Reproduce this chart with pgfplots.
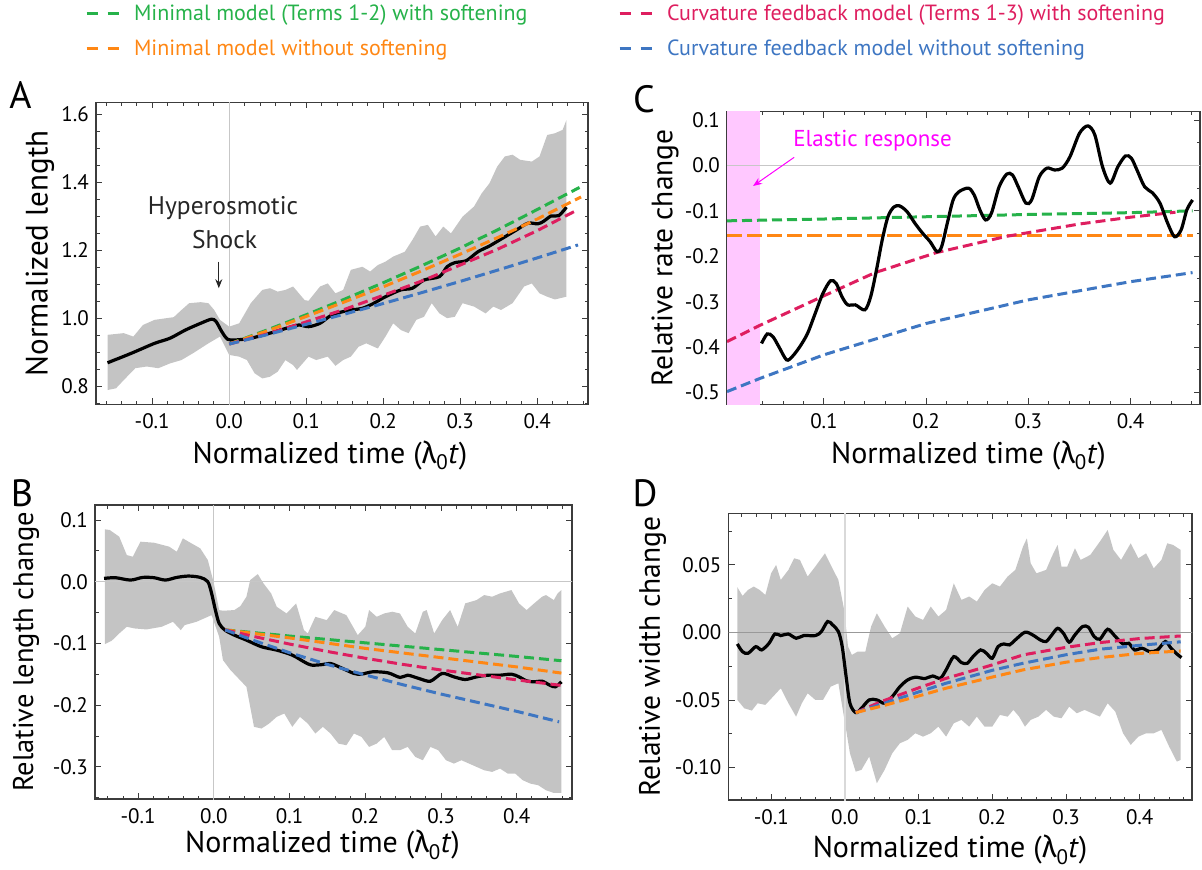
\documentclass[border=0pt]{standalone}
\usepackage{fontspec}
\setmainfont{PT Sans}
\newfontfamily\grk{Fira Sans}
\usepackage{pgfplots}
\pgfplotsset{compat=1.18}
\usepgfplotslibrary{fillbetween}
\usetikzlibrary{arrows.meta}
\definecolor{cgreen}{RGB}{38,178,74}
\definecolor{corange}{RGB}{255,135,20}
\definecolor{cred}{RGB}{222,30,95}
\definecolor{cblue}{RGB}{62,118,194}
\definecolor{cband}{RGB}{196,196,196}
\definecolor{cpink}{RGB}{255,200,255}
\definecolor{cmag}{RGB}{255,0,255}
\definecolor{caxis}{RGB}{60,60,60}
\newcommand{\xlab}{Normalized time ({\grk λ}\textsubscript{0}\textit{t})}
\pgfplotsset{
  panel/.style={scale only axis, anchor=south west,
    axis line style={caxis, line width=1.2pt},
    tick style={caxis, line width=1pt},
    major tick length=6pt, minor tick length=3.5pt, tick align=inside,
    tick label style={font=\fontsize{21}{24}\selectfont},
    xticklabel style={anchor=north, inner sep=0pt, yshift=-9pt},
    yticklabel style={anchor=east, inner sep=0pt, xshift=-7pt},
    xlabel style={anchor=center, font=\fontsize{30}{32}\selectfont},
    ylabel style={anchor=center, font=\fontsize{28.5}{31}\selectfont},
  },
  model/.style={line width=3pt, dash pattern=on 10pt off 5pt, forget plot},
  obs/.style={black, line width=3.2pt, smooth, tension=0.5, forget plot},
}
\begin{document}
\begin{tikzpicture}
% ================= A =================
\begin{axis}[panel, at={(96pt,-404.3pt)}, width=492pt, height=302pt,
  xmin=-0.173, xmax=0.466, ymin=0.748, ymax=1.635,
  xtick={-0.1,0,0.1,0.2,0.3,0.4}, xticklabels={-0.1,0.0,0.1,0.2,0.3,0.4},
  minor xtick={-0.16,-0.14,...,0.46},
  ytick={0.8,1.0,1.2,1.4,1.6}, yticklabels={0.8,1.0,1.2,1.4,1.6},
  minor ytick={0.75,0.8,...,1.65},
  xlabel={\xlab}, ylabel={Normalized length},
  xlabel style={at={(axis description cs:0.4756,-0.169)}},
  ylabel style={at={(axis description cs:-0.1138,0.5)}, font=\fontsize{31}{33}\selectfont},
  legend columns=2, legend cell align=left,
  legend style={at={(rel axis cs:-0.02236,1.3255)}, anchor=north west, draw=none, fill=none,
    inner sep=0pt, outer sep=0pt, column sep=14pt, row sep=14pt,
    nodes={inner sep=0pt, anchor=base west, text height=16pt, text depth=5pt, font=\fontsize{22}{26}\selectfont}},
  legend image code/.code={\draw[#1, line width=3pt, dash pattern=on 11pt off 10pt] (0pt,7pt) -- (32pt,7pt);},
]
\addlegendimage{cgreen}
\addlegendentry{\makebox[470pt][l]{\textcolor{cgreen}{Minimal model (Terms 1-2) with softening}}}
\addlegendimage{cred}
\addlegendentry{\textcolor{cred}{Curvature feedback model (Terms 1-3) with softening}}
\addlegendimage{corange}
\addlegendentry{\makebox[470pt][l]{\textcolor{corange}{Minimal model without softening}}}
\addlegendimage{cblue}
\addlegendentry{\textcolor{cblue}{Curvature feedback model without softening}}
\addplot[name path=upA, draw=none, forget plot] coordinates {
(-0.158,0.952)(-0.137,0.957)(-0.1245,0.947)(-0.112,0.981)(-0.097,0.996)(-0.072,1.004)(-0.062,1.025)(-0.052,1.045)(-0.037,1.048)(-0.027,1.045)(-0.0195,1.025)(-0.012,0.996)(0.0,0.976)(0.013,0.986)(0.028,1.045)(0.043,1.084)(0.053,1.089)(0.063,1.079)(0.073,1.084)(0.083,1.094)(0.098,1.054)(0.103,1.052)(0.118,1.094)(0.128,1.103)(0.138,1.074)(0.148,1.084)(0.158,1.143)(0.173,1.152)(0.183,1.138)(0.193,1.157)(0.203,1.167)(0.213,1.182)(0.228,1.196)(0.238,1.231)(0.248,1.270)(0.258,1.275)(0.268,1.241)(0.278,1.270)(0.288,1.250)(0.303,1.299)(0.318,1.329)(0.328,1.368)(0.338,1.397)(0.348,1.446)(0.358,1.476)(0.368,1.481)(0.378,1.466)(0.393,1.461)(0.403,1.476)(0.413,1.539)(0.423,1.544)(0.433,1.554)(0.438,1.583)};
\addplot[name path=loA, draw=none, forget plot] coordinates {
(-0.158,0.790)(-0.147,0.795)(-0.137,0.819)(-0.122,0.854)(-0.107,0.859)(-0.092,0.854)(-0.077,0.868)(-0.062,0.878)(-0.047,0.898)(-0.027,0.927)(-0.012,0.947)(0.0,0.893)(0.013,0.888)(0.023,0.878)(0.033,0.839)(0.043,0.824)(0.053,0.829)(0.063,0.844)(0.073,0.878)(0.083,0.863)(0.088,0.849)(0.103,0.888)(0.113,0.878)(0.128,0.888)(0.138,0.861)(0.148,0.878)(0.158,0.888)(0.168,0.917)(0.178,0.927)(0.193,0.912)(0.203,0.947)(0.213,0.986)(0.223,0.966)(0.233,0.957)(0.243,0.996)(0.253,1.005)(0.263,1.045)(0.273,1.015)(0.283,1.001)(0.293,1.005)(0.303,1.045)(0.318,1.035)(0.333,1.015)(0.343,1.035)(0.353,1.025)(0.368,1.045)(0.383,1.094)(0.393,1.103)(0.403,1.074)(0.413,1.064)(0.423,1.056)(0.438,1.064)};
\addplot[cband, forget plot] fill between[of=upA and loA];
\addplot[black!22, line width=1pt, forget plot] coordinates {(0,0.6)(0,1.8)};
\addplot[obs] coordinates {
(-0.158,0.870)(-0.127,0.898)(-0.097,0.927)(-0.077,0.942)(-0.057,0.966)(-0.037,0.986)(-0.023,0.998)(-0.017,0.991)(-0.0095,0.961)(-0.002,0.939)(0.008,0.937)(0.028,0.942)(0.053,0.957)(0.078,0.974)(0.0905,0.981)(0.103,0.976)(0.118,0.986)(0.133,1.010)(0.153,1.023)(0.173,1.030)(0.188,1.045)(0.203,1.064)(0.223,1.084)(0.238,1.089)(0.253,1.113)(0.273,1.123)(0.283,1.152)(0.293,1.164)(0.308,1.170)(0.323,1.196)(0.338,1.213)(0.353,1.233)(0.373,1.260)(0.388,1.280)(0.4005,1.278)(0.408,1.285)(0.418,1.301)(0.428,1.302)(0.438,1.327)};
\addplot[model, cgreen] coordinates {(0,0.925)(0.05,0.967)(0.1,1.011)(0.15,1.057)(0.2,1.105)(0.25,1.155)(0.3,1.207)(0.35,1.262)(0.4,1.320)(0.455,1.385)};
\addplot[model, corange] coordinates {(0,0.925)(0.05,0.964)(0.1,1.006)(0.15,1.049)(0.2,1.093)(0.25,1.140)(0.3,1.189)(0.35,1.239)(0.4,1.292)(0.457,1.357)};
\addplot[model, cred] coordinates {(0,0.925)(0.05,0.955)(0.1,0.99)(0.15,1.027)(0.2,1.068)(0.25,1.11)(0.3,1.157)(0.35,1.205)(0.4,1.258)(0.448,1.314)};
\addplot[model, cblue] coordinates {(0,0.925)(0.05,0.953)(0.1,0.983)(0.15,1.013)(0.2,1.044)(0.25,1.076)(0.3,1.109)(0.35,1.143)(0.4,1.178)(0.453,1.216)};
\node[text=black!85, font=\fontsize{25.5}{28}\selectfont] at (axis cs:-0.008,1.324) {Hyperosmotic};
\node[text=black!85, font=\fontsize{25.5}{28}\selectfont] at (axis cs:-0.006,1.233) {Shock};
\draw[black!85, line width=1.2pt, -{Stealth[length=9pt,width=7pt]}] (axis cs:-0.0135,1.167) -- (axis cs:-0.0135,1.089);
\end{axis}
% ================= C =================
\begin{axis}[panel, at={(727pt,-404.3pt)}, width=473pt, height=292.6pt,
  xmin=0.0051, xmax=0.468, ymin=-0.526, ymax=0.1183,
  xtick={0.1,0.2,0.3,0.4}, xticklabels={0.1,0.2,0.3,0.4},
  minor xtick={0.02,0.04,...,0.46},
  ytick={-0.5,-0.4,-0.3,-0.2,-0.1,0,0.1}, yticklabels={-0.5,-0.4,-0.3,-0.2,-0.1,0.0,0.1},
  minor ytick={-0.55,-0.5,...,0.15},
  xlabel={\xlab}, ylabel={Relative rate change},
  xlabel style={at={(axis description cs:0.5106,-0.174)}},
  ylabel style={at={(axis description cs:-0.131,0.5)}, font=\fontsize{29.5}{32}\selectfont},
]
\addplot[fill=cpink, draw=none, forget plot] coordinates {(-0.01,-0.6)(0.0374,-0.6)(0.0374,0.2)(-0.01,0.2)} -- cycle;
\addplot[black!22, line width=1pt, forget plot] coordinates {(-0.1,0)(0.6,0)};
\addplot[model, cgreen] coordinates {(0.0051,-0.122)(0.1,-0.118)(0.2,-0.113)(0.3,-0.108)(0.4,-0.104)(0.4607,-0.100)};
\addplot[model, corange, dash pattern=on 15pt off 5pt] coordinates {(0.0051,-0.155)(0.4607,-0.155)};
\addplot[model, cred] coordinates {(0.0051,-0.388)(0.0374,-0.352)(0.1,-0.287)(0.15,-0.236)(0.21,-0.192)(0.279,-0.156)(0.35,-0.129)(0.4,-0.114)(0.444,-0.103)};
\addplot[model, cblue] coordinates {(0.0051,-0.498)(0.0374,-0.469)(0.1,-0.417)(0.2,-0.348)(0.3,-0.296)(0.4,-0.256)(0.4607,-0.236)};
\addplot[obs] coordinates {
(0.0389,-0.392)(0.0445,-0.371)(0.050,-0.377)(0.0558,-0.399)(0.0633,-0.428)(0.0689,-0.421)(0.0764,-0.399)(0.0839,-0.370)(0.0914,-0.326)(0.0989,-0.282)(0.1064,-0.254)(0.112,-0.260)(0.1176,-0.289)(0.1232,-0.307)(0.1307,-0.307)(0.140,-0.318)(0.1457,-0.289)(0.1514,-0.230)(0.157,-0.164)(0.1626,-0.113)(0.1682,-0.092)(0.1739,-0.089)(0.1814,-0.102)(0.1889,-0.127)(0.1964,-0.149)(0.2039,-0.168)(0.2106,-0.190)(0.2151,-0.179)(0.2207,-0.127)(0.2264,-0.076)(0.232,-0.058)(0.2414,-0.050)(0.247,-0.065)(0.2526,-0.098)(0.2582,-0.120)(0.2639,-0.105)(0.2714,-0.047)(0.2789,-0.019)(0.2845,-0.021)(0.2901,-0.047)(0.2976,-0.083)(0.3032,-0.076)(0.3107,-0.025)(0.3182,-0.006)(0.3257,-0.010)(0.3332,-0.006)(0.3407,0.019)(0.3501,0.071)(0.3583,0.087)(0.3651,0.067)(0.3726,-0.003)(0.3801,-0.039)(0.3876,-0.003)(0.3951,0.021)(0.4008,0.016)(0.4063,-0.010)(0.4138,-0.047)(0.4213,-0.060)(0.4288,-0.083)(0.4363,-0.127)(0.4431,-0.157)(0.4495,-0.142)(0.4551,-0.098)(0.4607,-0.076)};
\node[text=cmag, font=\fontsize{23}{26}\selectfont] at (axis cs:0.1476,0.0545) {Elastic response};
\draw[cmag, line width=1pt, -{Stealth[length=9pt,width=7pt]}] (axis cs:0.0708,0.0178) -- (axis cs:0.0306,-0.0453);
\end{axis}
% ================= B =================
\begin{axis}[panel, at={(95pt,-799pt)}, width=477pt, height=294pt,
  xmin=-0.157, xmax=0.473, ymin=-0.352, ymax=0.1243,
  xtick={-0.1,0,0.1,0.2,0.3,0.4}, xticklabels={-0.1,0.0,0.1,0.2,0.3,0.4},
  minor xtick={-0.14,-0.12,...,0.46},
  ytick={-0.3,-0.2,-0.1,0,0.1}, yticklabels={-0.3,-0.2,-0.1,0.0,0.1},
  minor ytick={-0.35,-0.3,...,0.15},
  xlabel={\xlab}, ylabel={Relative length change},
  xlabel style={at={(axis description cs:0.477,-0.156)}},
  ylabel style={at={(axis description cs:-0.1447,0.5)}},
]
\addplot[name path=upB, draw=none, forget plot] coordinates {
(-0.144,0.0849)(-0.1376,0.0838)(-0.125,0.0730)(-0.115,0.0432)(-0.107,0.0405)(-0.097,0.0649)(-0.079,0.0632)(-0.059,0.0568)(-0.049,0.0486)(-0.041,0.0703)(-0.0335,0.0649)(-0.018,0.0541)(-0.008,0.0351)(-0.0005,0.0)(0.007,-0.0459)(0.012,-0.0470)(0.027,-0.0459)(0.035,-0.0395)(0.043,-0.0243)(0.048,0.0027)(0.058,0.0124)(0.0655,-0.0027)(0.0756,-0.0189)(0.083,-0.0405)(0.096,-0.0514)(0.1086,-0.0351)(0.119,-0.0784)(0.124,-0.0838)(0.134,-0.0568)(0.149,-0.0622)(0.159,-0.0459)(0.175,-0.0541)(0.190,-0.0865)(0.200,-0.0730)(0.205,-0.0459)(0.215,-0.0568)(0.225,-0.0514)(0.2355,-0.0486)(0.2457,-0.0514)(0.256,-0.0730)(0.266,-0.0838)(0.276,-0.0486)(0.281,-0.0459)(0.291,-0.0838)(0.3015,-0.0622)(0.312,-0.0459)(0.322,-0.0730)(0.332,-0.0351)(0.347,-0.0297)(0.357,-0.0216)(0.3675,-0.0243)(0.378,-0.0189)(0.393,-0.0135)(0.403,-0.0351)(0.413,-0.0459)(0.423,-0.0351)(0.4335,-0.0243)(0.4386,-0.0216)(0.449,-0.0297)(0.454,-0.0189)(0.459,-0.0135)};
\addplot[name path=loB, draw=none, forget plot] coordinates {
(-0.144,-0.1011)(-0.135,-0.0957)(-0.125,-0.0838)(-0.115,-0.0730)(-0.1046,-0.0757)(-0.089,-0.0773)(-0.069,-0.0730)(-0.054,-0.0649)(-0.0437,-0.0784)(-0.0386,-0.0703)(-0.023,-0.0649)(-0.008,-0.0568)(-0.003,-0.0541)(0.007,-0.0892)(0.012,-0.1270)(0.022,-0.1432)(0.043,-0.1703)(0.053,-0.2351)(0.063,-0.2378)(0.073,-0.2297)(0.083,-0.2189)(0.093,-0.2135)(0.1036,-0.2351)(0.1137,-0.2189)(0.124,-0.2297)(0.134,-0.2459)(0.144,-0.2351)(0.154,-0.2459)(0.1645,-0.2622)(0.175,-0.2649)(0.185,-0.2459)(0.195,-0.2514)(0.205,-0.2676)(0.215,-0.2622)(0.225,-0.2514)(0.2355,-0.2730)(0.2457,-0.2730)(0.256,-0.2676)(0.266,-0.2838)(0.276,-0.2892)(0.286,-0.2676)(0.2964,-0.2730)(0.3066,-0.2892)(0.317,-0.2946)(0.327,-0.2892)(0.337,-0.2946)(0.347,-0.3000)(0.357,-0.3054)(0.3675,-0.3081)(0.378,-0.3027)(0.388,-0.3108)(0.398,-0.3108)(0.408,-0.3216)(0.418,-0.3270)(0.4284,-0.3297)(0.4386,-0.3378)(0.449,-0.3422)(0.459,-0.3422)};
\addplot[cband, forget plot] fill between[of=upB and loB];
\addplot[black!22, line width=1pt, forget plot] coordinates {(0,-0.5)(0,0.5)};
\addplot[black!22, line width=1pt, forget plot] coordinates {(-0.3,0)(0.6,0)};
\addplot[obs] coordinates {
(-0.145,0.0054)(-0.130,0.0065)(-0.110,0.0027)(-0.094,0.0070)(-0.079,0.0065)(-0.064,0.0027)(-0.049,0.0070)(-0.0335,0.0092)(-0.018,0.0070)(-0.008,0.0)(-0.003,-0.0189)(0.002,-0.0459)(0.007,-0.0676)(0.0147,-0.0784)(0.027,-0.0865)(0.043,-0.0946)(0.063,-0.1054)(0.083,-0.1108)(0.1036,-0.1189)(0.119,-0.1297)(0.129,-0.1351)(0.144,-0.1341)(0.154,-0.1324)(0.170,-0.1405)(0.185,-0.1486)(0.195,-0.1497)(0.210,-0.1459)(0.230,-0.1476)(0.246,-0.1551)(0.256,-0.1514)(0.271,-0.1568)(0.286,-0.1611)(0.3015,-0.1486)(0.317,-0.1541)(0.332,-0.1584)(0.347,-0.1541)(0.362,-0.1514)(0.378,-0.1514)(0.393,-0.1497)(0.403,-0.1541)(0.413,-0.1605)(0.423,-0.1622)(0.4335,-0.1611)(0.4437,-0.1676)(0.451,-0.1703)(0.459,-0.1622)};
\addplot[model, cgreen] coordinates {(0.015,-0.078)(0.1,-0.088)(0.2,-0.099)(0.3,-0.110)(0.4,-0.121)(0.459,-0.128)};
\addplot[model, corange] coordinates {(0.015,-0.078)(0.1,-0.091)(0.2,-0.108)(0.3,-0.123)(0.4,-0.138)(0.459,-0.148)};
\addplot[model, cred] coordinates {(0.015,-0.078)(0.05,-0.088)(0.1,-0.101)(0.15,-0.113)(0.2,-0.124)(0.25,-0.134)(0.3,-0.143)(0.35,-0.151)(0.4,-0.159)(0.459,-0.168)};
\addplot[model, cblue] coordinates {(0.015,-0.078)(0.05,-0.094)(0.1,-0.115)(0.15,-0.134)(0.2,-0.151)(0.25,-0.167)(0.3,-0.182)(0.35,-0.196)(0.4,-0.21)(0.456,-0.227)};
\end{axis}
% ================= D =================
\begin{axis}[panel, at={(728.5pt,-800pt)}, width=463.5pt, height=286.7pt,
  xmin=-0.158, xmax=0.471, ymin=-0.124, ymax=0.0882,
  xtick={-0.1,0,0.1,0.2,0.3,0.4}, xticklabels={-0.1,0.0,0.1,0.2,0.3,0.4},
  minor xtick={-0.14,-0.12,...,0.46},
  ytick={-0.1,-0.05,0,0.05}, yticklabels={-0.10,-0.05,0.00,0.05},
  minor ytick={-0.125,-0.1,...,0.1},
  xlabel={\xlab}, ylabel={Relative width change},
  xlabel style={at={(axis description cs:0.478,-0.174)}},
  ylabel style={at={(axis description cs:-0.164,0.5)}, font=\fontsize{29.5}{32}\selectfont},
]
\addplot[name path=upD, draw=none, forget plot] coordinates {
(-0.146,0.0335)(-0.139,0.0271)(-0.1315,0.0315)(-0.1237,0.0340)(-0.1159,0.0315)(-0.108,0.0278)(-0.1002,0.0438)(-0.0934,0.0500)(-0.0871,0.0389)(-0.0767,0.0463)(-0.0689,0.0549)(-0.0611,0.0537)(-0.0506,0.0414)(-0.0402,0.0488)(-0.0271,0.0586)(-0.0193,0.0500)(-0.0089,0.0389)(-0.001,0.0167)(0.0042,-0.0104)(0.0094,-0.0166)(0.0172,-0.0142)(0.0277,-0.0142)(0.0355,0.0044)(0.0433,0.0142)(0.0538,0.0044)(0.0642,-0.0043)(0.0746,-0.0006)(0.0851,0.0192)(0.0955,0.0118)(0.106,0.0093)(0.1164,0.0192)(0.1268,0.0118)(0.1373,0.0167)(0.1477,0.0364)(0.1581,0.0241)(0.1686,0.0266)(0.179,0.0229)(0.1895,0.0315)(0.1999,0.0364)(0.2103,0.0340)(0.2208,0.0414)(0.2312,0.0463)(0.2417,0.0636)(0.2469,0.0697)(0.2521,0.0512)(0.2599,0.0438)(0.273,0.0463)(0.2808,0.0562)(0.2886,0.0648)(0.2938,0.0488)(0.3017,0.0488)(0.3121,0.0623)(0.3199,0.0537)(0.333,0.0574)(0.346,0.0673)(0.3565,0.0759)(0.3643,0.0611)(0.3747,0.0537)(0.3878,0.0660)(0.3982,0.0549)(0.4087,0.0586)(0.4191,0.0475)(0.4295,0.0537)(0.4374,0.0660)(0.4452,0.0648)(0.4556,0.0611)};
\addplot[name path=loD, draw=none, forget plot] coordinates {
(-0.146,-0.0499)(-0.1367,-0.0561)(-0.1263,-0.0578)(-0.1185,-0.0524)(-0.108,-0.0536)(-0.0976,-0.0475)(-0.0871,-0.0413)(-0.0767,-0.0524)(-0.0663,-0.0623)(-0.0585,-0.0524)(-0.0506,-0.0450)(-0.0402,-0.0499)(-0.0297,-0.0499)(-0.0193,-0.0401)(-0.0089,-0.0376)(0.0016,-0.0721)(0.0068,-0.0894)(0.0146,-0.1030)(0.0224,-0.1017)(0.0329,-0.0919)(0.0433,-0.1116)(0.0538,-0.1017)(0.0642,-0.0894)(0.0746,-0.0820)(0.0851,-0.0795)(0.0955,-0.0746)(0.106,-0.0771)(0.1164,-0.0746)(0.1268,-0.0697)(0.1373,-0.0771)(0.1477,-0.0672)(0.1581,-0.0647)(0.1686,-0.0697)(0.179,-0.0623)(0.1895,-0.0697)(0.1999,-0.0697)(0.2103,-0.0610)(0.2208,-0.0623)(0.2286,-0.0573)(0.2364,-0.0623)(0.2443,-0.0697)(0.2521,-0.0647)(0.2625,-0.0623)(0.273,-0.0573)(0.2834,-0.0623)(0.2938,-0.0635)(0.3043,-0.0549)(0.3147,-0.0598)(0.3252,-0.0573)(0.3356,-0.0598)(0.346,-0.0623)(0.3565,-0.0524)(0.3669,-0.0586)(0.3774,-0.0746)(0.3878,-0.0832)(0.3982,-0.0771)(0.4087,-0.0746)(0.4191,-0.0746)(0.4295,-0.0721)(0.44,-0.0845)(0.4504,-0.0956)(0.4556,-0.0943)};
\addplot[cband, forget plot] fill between[of=upD and loD];
\addplot[black!15, line width=1.2pt, forget plot] coordinates {(0,-0.2)(0,0.2)};
\addplot[black!40, line width=1pt, forget plot] coordinates {(-0.3,0)(0.6,0)};
\addplot[obs] coordinates {
(-0.146,-0.0085)(-0.139,-0.0142)(-0.1315,-0.0154)(-0.121,-0.0105)(-0.113,-0.0129)(-0.103,-0.0080)(-0.095,-0.0011)(-0.087,-0.0023)(-0.077,-0.0011)(-0.066,-0.0043)(-0.056,-0.0023)(-0.040,-0.0023)(-0.032,0.0007)(-0.0235,0.0081)(-0.0167,0.0056)(-0.0089,0.0007)(-0.0037,-0.0104)(0.0016,-0.0327)(0.0068,-0.0524)(0.0146,-0.0593)(0.0224,-0.0561)(0.0329,-0.0499)(0.0433,-0.0499)(0.0538,-0.0524)(0.0642,-0.0475)(0.0746,-0.0401)(0.0851,-0.0351)(0.0955,-0.0331)(0.1086,-0.0341)(0.119,-0.0322)(0.1294,-0.0339)(0.1373,-0.0277)(0.1477,-0.0179)(0.1581,-0.0223)(0.166,-0.0228)(0.1738,-0.0179)(0.1842,-0.0129)(0.192,-0.0154)(0.1999,-0.0191)(0.2077,-0.0105)(0.2156,-0.0085)(0.2234,-0.0092)(0.2312,-0.0055)(0.2443,0.0002)(0.2547,-0.0018)(0.2651,-0.0055)(0.273,-0.0067)(0.2808,-0.0018)(0.2886,0.0031)(0.2965,-0.0006)(0.3043,-0.0072)(0.3121,-0.0018)(0.3225,0.0044)(0.3304,0.0039)(0.3382,-0.0030)(0.346,-0.0050)(0.3565,0.0024)(0.3669,-0.0030)(0.3774,-0.0085)(0.3852,-0.0080)(0.393,-0.0129)(0.4034,-0.0117)(0.4139,-0.0142)(0.4243,-0.0129)(0.4348,-0.0067)(0.4426,-0.0117)(0.4504,-0.0159)(0.4567,-0.0186)};
\addplot[model, cred] coordinates {(0.0146,-0.0593)(0.05,-0.051)(0.1,-0.041)(0.137,-0.034)(0.2,-0.024)(0.2416,-0.0166)(0.3,-0.011)(0.346,-0.0075)(0.4,-0.0045)(0.4556,-0.0026)};
\addplot[model, cblue] coordinates {(0.0146,-0.0593)(0.05,-0.053)(0.1,-0.044)(0.137,-0.0376)(0.2,-0.028)(0.2416,-0.0228)(0.3,-0.0165)(0.346,-0.0124)(0.4,-0.0095)(0.4556,-0.0069)};
\addplot[model, corange] coordinates {(0.0146,-0.0593)(0.05,-0.0545)(0.1,-0.047)(0.137,-0.0413)(0.2,-0.033)(0.2416,-0.0277)(0.3,-0.022)(0.346,-0.0186)(0.4,-0.0155)(0.4556,-0.0137)};
\end{axis}
% panel letters
\node[font=\fontsize{38}{40}\selectfont] at (20.5pt,-95pt) {A};
\node[font=\fontsize{38}{40}\selectfont] at (22pt,-493pt) {B};
\node[font=\fontsize{38}{40}\selectfont] at (644pt,-99pt) {C};
\node[font=\fontsize{38}{40}\selectfont] at (645pt,-493pt) {D};
\path (0pt,0pt) rectangle (1202pt,-870pt);
\end{tikzpicture}
\end{document}
